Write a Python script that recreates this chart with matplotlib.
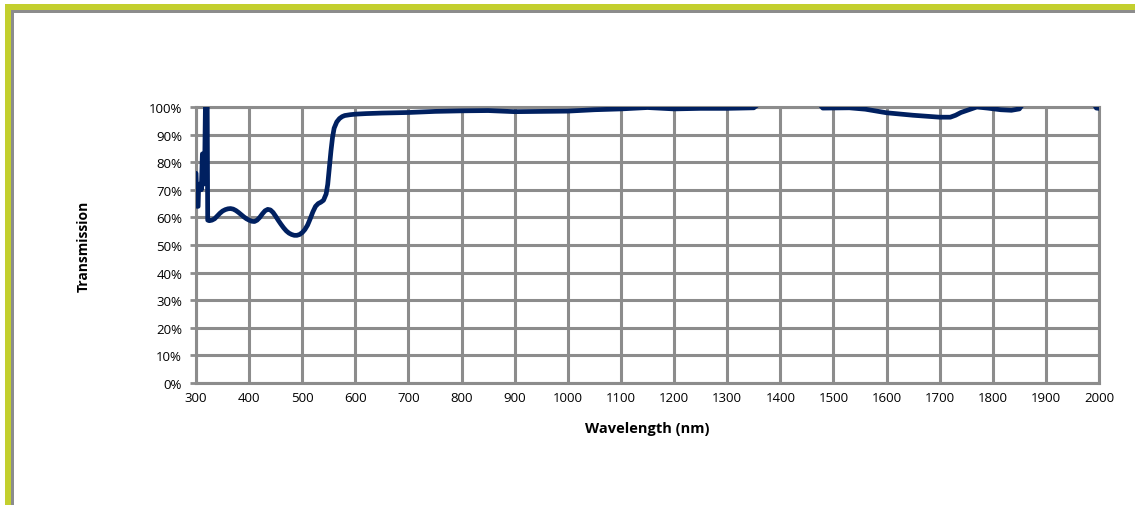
import matplotlib
matplotlib.use("Agg")
import matplotlib.pyplot as plt
from matplotlib.patches import Rectangle

# wavelength (nm) and transmission (%)
wavelength = [300, 302, 304, 305, 308, 310, 312, 314, 316, 318, 321, 322, 325, 330,
              335, 340, 345, 350, 355, 360, 365, 370, 375, 380, 385, 390, 395, 400,
              405, 410, 415, 420, 425, 430, 435, 440, 445, 450, 455, 460, 465, 470,
              475, 480, 485, 490, 495, 500, 505, 510, 515, 520, 525, 530, 535, 540,
              545, 548, 551, 554, 557, 560, 565, 570, 575, 580, 590, 600, 620, 650,
              700, 750, 800, 850, 900, 950, 1000, 1050, 1100, 1150, 1200, 1250, 1300,
              1350, 1372, 1420, 1465, 1480, 1530, 1560, 1600, 1650, 1700, 1720, 1730,
              1740, 1755, 1770, 1790, 1815, 1835, 1850, 1864, 1900, 1985, 1995, 2000]
transmission = [76, 64, 64, 72, 72, 70, 83, 72, 74, 105, 105, 59, 58.8, 59.0,
                59.5, 60.5, 61.5, 62.3, 62.8, 63.1, 63.2, 63.0, 62.5, 61.8, 61.0, 60.2, 59.5, 59.0,
                58.6, 58.5, 59.0, 60.0, 61.3, 62.4, 62.9, 62.7, 61.8, 60.4, 58.9, 57.5, 56.2, 55.1,
                54.3, 53.8, 53.5, 53.5, 53.8, 54.5, 55.6, 57.2, 59.5, 62.0, 64.0, 65.0, 65.5, 66.2,
                68.5, 72, 78, 84, 89, 92.3, 94.6, 95.8, 96.5, 96.9, 97.2, 97.4, 97.6, 97.8,
                98.0, 98.4, 98.6, 98.7, 98.3, 98.4, 98.5, 99.0, 99.3, 99.8, 99.3, 99.5, 99.5,
                99.7, 103, 104, 103, 99.6, 99.7, 99.2, 97.9, 97.0, 96.3, 96.3, 97.0,
                98.0, 99.0, 100.0, 99.6, 99.0, 98.8, 99.3, 103, 104, 103, 99.6, 99.5]

x_ticks = list(range(300, 2001, 100))
y_ticks = list(range(0, 101, 10))

grid_color = "#8c8c8c"

fig = plt.figure(figsize=(11.35, 5.06), dpi=100, facecolor="#FFFFFF")
ax = fig.add_axes([0.1727, 0.2411, 0.7956, 0.5455])

ax.plot(wavelength, transmission, color="#002060", linewidth=3.4,
        solid_joinstyle="round", solid_capstyle="round", zorder=3)

ax.set_xlim(300, 2000)
ax.set_ylim(0, 100)
ax.set_xticks(x_ticks)
ax.set_yticks(y_ticks)
ax.set_yticklabels([f"{v}%" for v in y_ticks])
ax.grid(True, color=grid_color, linewidth=2.2, zorder=1)
ax.set_axisbelow(True)
for side in ax.spines.values():
    side.set_color(grid_color)
    side.set_linewidth(2.2)
    side.set_zorder(1)

ax.tick_params(axis="y", length=4, width=2, color=grid_color, pad=6, labelsize=9.5)
ax.tick_params(axis="x", length=0, pad=6, labelsize=9.5)
for lab in ax.get_xticklabels() + ax.get_yticklabels():
    lab.set_fontfamily("Open Sans")

ax.set_xlabel("Wavelength (nm)", fontsize=10.5, fontweight="bold",
              fontfamily="Open Sans", labelpad=12)
ax.set_ylabel("Transmission", fontsize=10, fontweight="bold",
              fontfamily="Open Sans", labelpad=42)

# chart frame: green outer edge with a gray inner line (top and left only)
W, H = 1135, 506
fig.add_artist(Rectangle((5 / W, 1 - 11 / H), 1, 6 / H, transform=fig.transFigure,
                         color="#c3cf2e", lw=0))
fig.add_artist(Rectangle((5 / W, 0), 6 / W, 1 - 5 / H, transform=fig.transFigure,
                         color="#c3cf2e", lw=0))
fig.add_artist(Rectangle((11 / W, 1 - 14 / H), 1, 3 / H, transform=fig.transFigure,
                         color="#8c8c8c", lw=0))
fig.add_artist(Rectangle((11 / W, 0), 3 / W, 1 - 11 / H, transform=fig.transFigure,
                         color="#8c8c8c", lw=0))

fig.savefig("out.png", dpi=100, facecolor="#FFFFFF")
